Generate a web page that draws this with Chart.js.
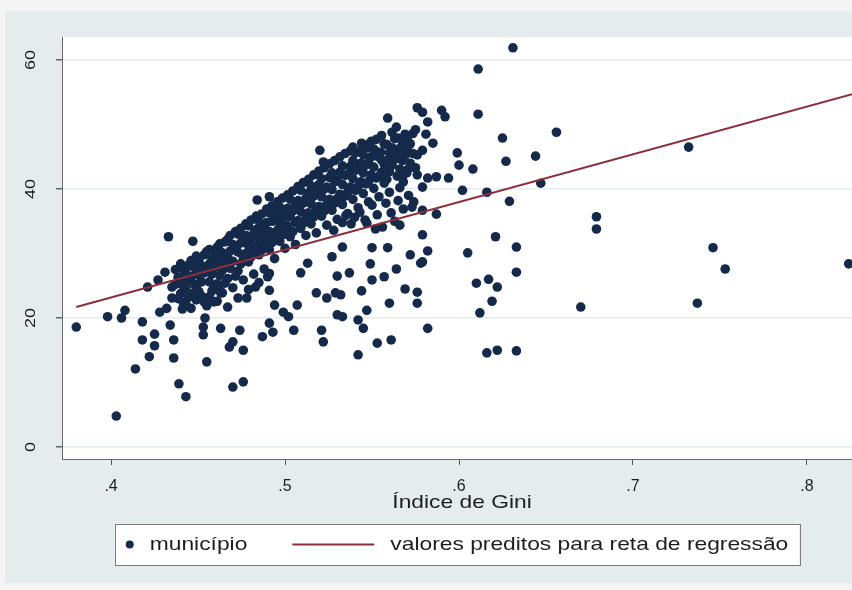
<!DOCTYPE html>
<html>
<head>
<meta charset="utf-8">
<script src="https://cdn.jsdelivr.net/npm/chart.js@4.4.0/dist/chart.umd.min.js"></script>
<style>
  html, body { margin: 0; padding: 0; background: #fff; }
  canvas { display: block; }
</style>
</head>
<body>
<canvas id="giniChart" width="852" height="590"></canvas>
<script>
// pontos: [indice de Gini, valor]
const municipios = [
  [0.380,18.6],[0.398,20.2],[0.403,4.8],[0.406,20.0],[0.408,21.2],[0.414,12.1],[0.418,19.4],[0.418,16.6],
  [0.421,24.8],[0.422,14.0],[0.425,17.5],[0.425,15.7],[0.428,20.9],[0.432,21.5],[0.433,32.6],[0.434,18.9],
  [0.435,24.8],[0.435,23.1],[0.436,16.6],[0.436,13.8],[0.439,9.8],[0.441,21.4],[0.441,26.4],[0.443,7.8],
  [0.447,31.9],[0.453,22.8],[0.453,18.6],[0.453,17.4],[0.454,20.0],[0.455,13.2],[0.459,22.5],[0.463,18.4],
  [0.463,23.9],[0.468,15.5],[0.470,16.3],[0.470,9.3],[0.474,18.1],[0.476,15.0],[0.476,10.1],[0.478,23.1],
  [0.483,24.8],[0.484,38.3],[0.487,17.1],[0.490,26.4],[0.491,24.3],[0.491,19.2],[0.491,38.8],[0.493,17.8],
  [0.494,22.0],[0.499,20.9],[0.502,20.2],[0.505,18.1],[0.507,22.0],[0.509,27.0],[0.513,28.5],[0.518,23.9],
  [0.520,46.0],[0.521,18.1],[0.522,16.3],[0.522,44.2],[0.524,23.1],[0.527,29.5],[0.529,23.9],[0.530,26.5],
  [0.530,20.5],[0.532,23.6],[0.533,20.2],[0.533,31.0],[0.537,27.0],[0.542,19.7],[0.542,14.3],[0.544,24.2],
  [0.545,18.4],[0.547,21.2],[0.547,34.7],[0.549,28.4],[0.550,25.9],[0.550,30.9],[0.553,16.1],[0.556,34.1],
  [0.557,26.4],[0.559,44.5],[0.559,51.0],[0.559,30.9],[0.560,22.3],[0.561,16.6],[0.564,27.6],[0.564,49.6],
  [0.565,47.9],[0.566,34.4],[0.568,41.1],[0.569,24.5],[0.570,46.8],[0.570,42.5],[0.572,29.8],[0.573,37.2],
  [0.576,52.6],[0.576,45.3],[0.576,42.2],[0.576,22.3],[0.576,24.0],[0.578,28.5],[0.579,51.9],[0.579,46.0],
  [0.579,40.3],[0.579,36.7],[0.579,32.9],[0.579,28.7],[0.581,48.5],[0.582,50.4],[0.582,41.7],[0.582,30.4],
  [0.582,18.4],[0.585,47.1],[0.587,36.1],[0.587,41.9],[0.590,52.2],[0.592,51.2],[0.594,41.7],[0.599,45.6],
  [0.600,43.7],[0.602,39.8],[0.605,30.1],[0.608,43.1],[0.610,25.4],[0.611,58.6],[0.611,51.6],[0.612,20.8],
  [0.616,39.5],[0.616,14.6],[0.617,26.0],[0.619,22.6],[0.621,32.6],[0.622,24.8],[0.622,15.0],[0.625,47.9],
  [0.627,44.3],[0.629,38.1],[0.631,61.9],[0.633,31.0],[0.633,27.1],[0.633,14.9],[0.644,45.1],[0.647,40.9],
  [0.656,48.8],[0.670,21.7],[0.679,35.7],[0.679,33.8],[0.732,46.5],[0.737,22.3],[0.746,30.9],[0.753,27.6],
  [0.824,28.4],
  // nucleo denso
  [0.427,25.9],[0.431,27.1],
  [0.437,27.5],[0.437,25.2],[0.440,28.4],[0.440,26.1],[0.440,23.8],[0.443,27.0],[0.443,24.5],[0.443,22.1],
  [0.446,28.9],[0.446,26.4],[0.446,21.5],[0.449,29.6],[0.449,27.2],[0.449,24.9],[0.449,22.8],[0.452,28.1],
  [0.452,25.6],[0.452,23.4],[0.455,30.3],[0.455,27.9],[0.455,21.9],[0.458,29.1],[0.458,26.8],[0.458,24.2],
  [0.461,31.0],[0.461,28.6],[0.461,25.3],[0.461,22.6],[0.464,30.1],[0.464,27.4],[0.464,23.9],[0.467,32.2],
  [0.467,29.5],[0.467,26.1],[0.467,21.7],[0.470,31.4],[0.470,28.8],[0.470,24.7],[0.473,33.0],[0.473,30.2],
  [0.473,27.3],[0.473,23.1],[0.476,32.1],[0.476,29.4],[0.476,25.9],[0.479,34.3],[0.479,31.2],[0.479,28.7],
  [0.479,24.4],[0.482,33.1],[0.482,30.5],[0.482,26.8],[0.485,35.0],[0.485,32.4],[0.485,29.8],[0.485,25.5],
  [0.488,34.2],[0.488,31.5],[0.488,27.6],[0.491,36.3],[0.491,33.4],[0.491,30.6],[0.491,26.9],[0.494,35.1],
  [0.494,32.7],[0.494,29.2],[0.497,37.2],[0.497,34.6],[0.497,31.9],[0.500,36.1],[0.500,33.5],[0.500,30.8],
  [0.503,38.4],[0.503,35.7],[0.503,32.6],[0.506,37.3],[0.506,34.8],[0.506,31.4],[0.509,39.8],[0.509,36.5],
  [0.509,33.9],[0.512,38.6],[0.512,35.5],[0.512,32.8],[0.515,40.5],[0.515,37.7],[0.515,34.6],[0.518,39.4],
  [0.518,36.9],[0.518,33.2],[0.521,41.6],[0.521,38.8],[0.521,35.8],[0.524,40.3],[0.524,37.6],[0.524,34.4],
  [0.527,42.5],[0.527,39.9],[0.527,36.7],[0.528,33.6],[0.530,41.4],[0.530,38.5],[0.530,35.3],[0.533,43.6],
  [0.533,40.7],[0.533,37.6],[0.533,34.8],[0.536,42.3],[0.536,39.5],[0.536,36.2],[0.539,44.4],[0.539,41.6],
  [0.539,38.4],[0.539,46.5],[0.540,35.6],[0.542,43.2],[0.542,40.4],[0.542,37.1],[0.544,47.1],[0.545,45.3],
  [0.545,42.5],[0.545,39.3],[0.548,44.1],[0.548,41.2],[0.548,38.0],[0.548,46.4],[0.551,46.2],[0.551,43.4],
  [0.551,40.1],[0.554,44.9],[0.554,42.0],[0.554,38.8],[0.555,45.7],[0.557,47.0],[0.557,43.8],[0.557,40.9],
  [0.560,45.6],[0.560,42.7],[0.560,39.5],[0.562,45.0],[0.563,47.8],[0.563,44.6],[0.566,46.3],[0.566,43.1],
  [0.566,40.2],[0.569,48.5],[0.569,45.2],[0.572,47.0],[0.572,44.0],[0.575,49.2],[0.575,43.3],
  // segunda camada do nucleo denso
  [0.4385,26.3],[0.4385,23.0],[0.4415,27.6],[0.4415,25.0],[0.4415,22.4],[0.4445,28.2],[0.4445,25.8],[0.4445,23.2],
  [0.4475,27.9],[0.4475,25.3],[0.4475,23.9],[0.4505,29.0],[0.4505,26.6],[0.4505,24.1],[0.4535,29.8],[0.4535,27.0],
  [0.4535,22.5],[0.4565,30.6],[0.4565,28.4],[0.4565,25.6],[0.4565,23.3],[0.4595,30.2],[0.4595,27.8],[0.4595,25.0],
  [0.4625,31.5],[0.4625,29.4],[0.4625,26.6],[0.4625,24.3],[0.4655,31.8],[0.4655,28.3],[0.4655,25.4],[0.4685,32.8],
  [0.4685,30.4],[0.4685,27.7],[0.4715,33.4],[0.4715,31.0],[0.4715,26.5],[0.4745,33.9],[0.4745,31.6],[0.4745,28.4],
  [0.4775,34.6],[0.4775,32.8],[0.4775,30.0],[0.4805,35.2],[0.4805,32.2],[0.4805,29.5],[0.4835,35.8],[0.4835,33.7],
  [0.4835,31.1],[0.4865,36.1],[0.4865,33.2],[0.4865,30.5],[0.4895,36.9],[0.4895,34.8],[0.4895,32.3],[0.4925,37.4],
  [0.4925,35.0],[0.4925,31.7],[0.4955,38.0],[0.4955,36.2],[0.4955,33.6],[0.4985,38.6],[0.4985,35.4],[0.4985,32.9],
  [0.5015,39.1],[0.5015,37.0],[0.5015,34.3],[0.5045,39.7],[0.5045,36.6],[0.5045,33.4],[0.5075,40.4],[0.5075,38.2],
  [0.5075,35.1],[0.5105,41.0],[0.5105,37.8],[0.5105,34.7],[0.5135,41.5],[0.5135,39.4],[0.5135,36.3],[0.5165,42.2],
  [0.5165,38.9],[0.5165,35.7],[0.5195,42.8],[0.5195,40.7],[0.5195,37.3],[0.5225,43.3],[0.5225,40.0],[0.5225,36.6],
  [0.5255,43.9],[0.5255,41.8],[0.5255,38.4],[0.5285,44.4],[0.5285,41.1],[0.5285,37.8],[0.5315,45.0],[0.5315,42.6],
  [0.5315,39.2],[0.5345,45.5],[0.5345,42.1],[0.5345,38.9],[0.5375,45.9],[0.5375,43.5],[0.5375,40.3],[0.5405,45.6],
  [0.5405,42.9],[0.5405,39.8],[0.5435,46.0],[0.5435,44.0],[0.5435,41.1],[0.5465,46.8],[0.5465,43.7],[0.5465,40.8],
  [0.5495,47.4],[0.5495,45.0],[0.5495,42.2],[0.5525,47.7],[0.5525,45.8],[0.5525,41.7],[0.5555,48.3],[0.5555,44.5],
  [0.5555,42.6],[0.5585,46.9],[0.5585,44.1],[0.5585,41.5],[0.5615,48.8],[0.5615,46.4],[0.5615,43.7],[0.5645,45.4],
  [0.5645,42.0],[0.5675,47.3],[0.5675,44.4],[0.5675,41.9],[0.5705,48.1],[0.5705,45.9],[0.5705,43.0],[0.5735,48.6],
  [0.5735,45.5],
  // borda inferior do nucleo, lado direito
  [0.535,35.9],[0.538,34.6],[0.543,36.4],[0.546,35.2],[0.550,37.5],[0.552,33.8],[0.553,36.0],[0.558,37.8],
  [0.561,36.3],[0.563,35.0],[0.565,38.2],[0.568,36.9],[0.571,39.0],[0.574,38.0]
];

// reta de regressao (valores preditos)
const regressaoGini = [0.38, 0.826];
const regressaoPredito = [21.7, 54.7];

const xTicks = [0.4, 0.5, 0.6, 0.7, 0.8];
const xTickLabels = ['.4', '.5', '.6', '.7', '.8'];
const yTicks = [0, 20, 40, 60];
const yTickLabels = ['0', '20', '40', '60'];
const xTitle = 'Índice de Gini';
const legendLabels = ['município', 'valores preditos para reta de regressão'];

const pointColor = '#152a4b';
const lineColor = '#8c2f3a';
const regionColor = '#e4eced';
const FONT = '"Liberation Sans", Arial, sans-serif';

function drawText(ctx, txt, x, y, size, sx, align) {
    ctx.save();
    ctx.font = size + 'px ' + FONT;
    ctx.textBaseline = 'middle';
    ctx.textAlign = 'left';
    const w = ctx.measureText(txt).width * sx;
    let left = x;
    if (align === 'center') left = x - w / 2;
    else if (align === 'right') left = x - w;
    ctx.translate(left, y);
    ctx.scale(sx, 1);
    ctx.fillStyle = '#1e1e1e';
    ctx.fillText(txt, 0, 0);
    ctx.restore();
    return w;
}

function textWidth(ctx, txt, size, sx) {
    ctx.save();
    ctx.font = size + 'px ' + FONT;
    const w = ctx.measureText(txt).width * sx;
    ctx.restore();
    return w;
}

const stataLook = {
    id: 'stataLook',
    beforeDraw(chart) {
        const ctx = chart.ctx, a = chart.chartArea;
        ctx.save();
        ctx.fillStyle = '#f4f4f4';
        ctx.fillRect(0, 0, chart.width, chart.height);
        ctx.fillStyle = regionColor;
        ctx.fillRect(5, 11, chart.width - 5, 572);
        ctx.fillStyle = '#ffffff';
        ctx.fillRect(a.left, a.top, chart.width - a.left, a.bottom - a.top);
        ctx.restore();
    },
    afterDraw(chart) {
        const ctx = chart.ctx, a = chart.chartArea;
        const ys = chart.scales.y;

        // rotulos do eixo y, girados
        yTicks.forEach((v, i) => {
            const py = ys.getPixelForValue(v);
            ctx.save();
            ctx.translate(31, py);
            ctx.rotate(-Math.PI / 2);
            drawText(ctx, yTickLabels[i], 0, 0, 15, 1.2, 'center');
            ctx.restore();
        });

        // titulo do eixo x
        const cx = (a.left + a.right) / 2;
        drawText(ctx, xTitle, cx + 5, 503, 19, 1.2, 'center');

        // legenda
        const size = 19, sx = 1.2;
        const w1 = textWidth(ctx, legendLabels[0], size, sx);
        const w2 = textWidth(ctx, legendLabels[1], size, sx);
        const total = 15 + 20 + w1 + 45 + 82 + 16 + w2 + 11;
        const bx = cx - total / 2, by = 524, bh = 41, my = by + bh / 2;
        ctx.save();
        ctx.fillStyle = '#ffffff';
        ctx.fillRect(bx, by, total, bh);
        ctx.strokeStyle = '#7a7a7a';
        ctx.lineWidth = 1;
        ctx.strokeRect(Math.round(bx) + 0.5, by + 0.5, Math.round(total), bh);
        ctx.fillStyle = pointColor;
        ctx.beginPath();
        ctx.arc(bx + 15, my, 4, 0, Math.PI * 2);
        ctx.fill();
        let x = bx + 35;
        drawText(ctx, legendLabels[0], x, my, size, sx, 'left');
        x += w1 + 45;
        ctx.strokeStyle = lineColor;
        ctx.lineWidth = 2;
        ctx.beginPath();
        ctx.moveTo(x, my);
        ctx.lineTo(x + 82, my);
        ctx.stroke();
        x += 82 + 16;
        drawText(ctx, legendLabels[1], x, my, size, sx, 'left');
        ctx.restore();
    }
};

new Chart(document.getElementById('giniChart'), {
    type: 'scatter',
    data: {
        datasets: [
            {
                type: 'line',
                label: legendLabels[1],
                data: regressaoGini.map((g, i) => ({ x: g, y: regressaoPredito[i] })),
                borderColor: lineColor,
                borderWidth: 2,
                pointRadius: 0,
                fill: false,
                order: 0
            },
            {
                label: legendLabels[0],
                data: municipios.map(p => ({ x: p[0], y: p[1] })),
                backgroundColor: pointColor,
                borderColor: pointColor,
                borderWidth: 0,
                pointRadius: 4.8,
                order: 1
            }
        ]
    },
    options: {
        responsive: false,
        animation: false,
        devicePixelRatio: 1,
        layout: { autoPadding: false, padding: { top: 37, right: 0, left: 5, bottom: 91 } },
        plugins: {
            legend: { display: false },
            tooltip: { enabled: false }
        },
        scales: {
            x: {
                type: 'linear',
                min: 0.3718,
                max: 0.8259,
                afterBuildTicks: s => { s.ticks = xTicks.map(v => ({ value: v })); },
                afterFit: s => { s.height = 40; },
                ticks: {
                    callback: v => xTickLabels[xTicks.indexOf(v)] ?? '',
                    color: '#1e1e1e',
                    font: { family: FONT, size: 16 },
                    padding: 12,
                    maxRotation: 0
                },
                grid: {
                    drawOnChartArea: false,
                    drawTicks: true,
                    tickLength: 6,
                    tickColor: '#555'
                },
                border: { display: true, color: '#6a6a6a', width: 1 }
            },
            y: {
                type: 'linear',
                min: -1.86,
                max: 63.57,
                afterBuildTicks: s => { s.ticks = yTicks.map(v => ({ value: v })); },
                afterFit: s => { s.width = 57; },
                ticks: { display: false },
                grid: {
                    color: regionColor,
                    lineWidth: 1.5,
                    drawTicks: true,
                    tickLength: 6,
                    tickColor: '#666'
                },
                border: { display: true, color: '#6a6a6a', width: 1 }
            }
        }
    },
    plugins: [stataLook]
});
</script>
</body>
</html>
